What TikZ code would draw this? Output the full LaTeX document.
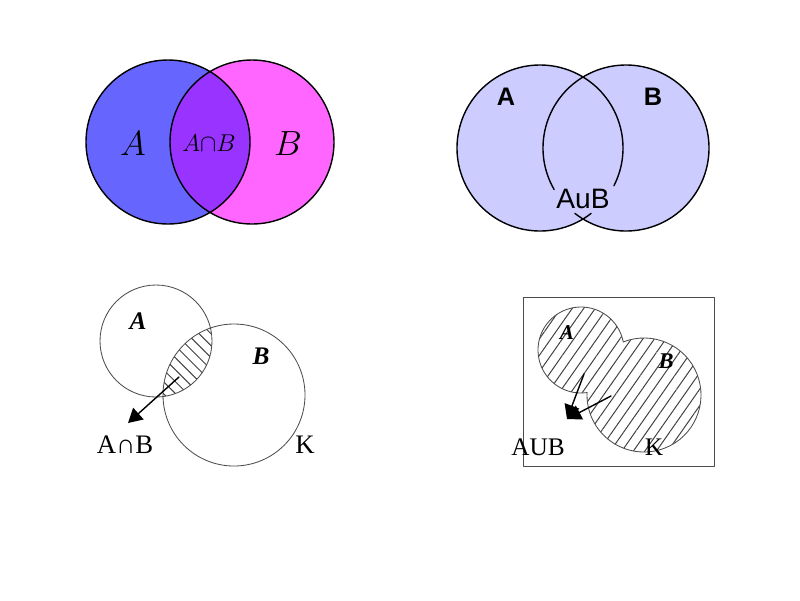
\documentclass[tikz,border=0pt]{standalone}
\usepackage{fontspec}
\newfontfamily\timesfont{Liberation Serif}
\newfontfamily\arialfont{Liberation Sans}
\usetikzlibrary{arrows.meta,patterns.meta}
\definecolor{setA}{HTML}{6666FF}
\definecolor{setB}{HTML}{FF66FF}
\definecolor{setAB}{HTML}{9933FF}
\definecolor{lavender}{HTML}{CCCCFF}
\tikzset{
  rim/.style={draw=black, line width=1pt},
  thin rim/.style={draw=black!70, line width=0.6pt},
  mathbig/.style={font=\fontsize{25}{25}\selectfont},
  mathmid/.style={font=\fontsize{17}{17}\selectfont},
  sansbold/.style={font=\arialfont\bfseries\fontsize{18}{18}\selectfont},
  sanslabel/.style={font=\arialfont\fontsize{20}{20}\selectfont},
  serifset/.style={font=\timesfont\bfseries\itshape\fontsize{#1}{#1}\selectfont},
  seriflabel/.style={font=\timesfont\fontsize{#1}{#1}\selectfont},
  pointer/.style={line width=1pt, -{Triangle[length=10pt,width=11pt]}},
  hatchlines/.style 2 args={pattern={Lines[angle=#1,distance=#2,line width=0.7pt]}, pattern color=black!75}
}
\begin{document}
\begin{tikzpicture}[x=0.025cm,y=-0.025cm,line join=round,line cap=round]
\useasboundingbox (0,0) rectangle (800,600);
% intersection, coloured
\coordinate (cA1) at (168,142);
\coordinate (cB1) at (252,142);
\fill[setA] (cA1) circle[radius=82];
\fill[setB] (cB1) circle[radius=82];
\begin{scope}
  \clip (cA1) circle[radius=82];
  \fill[setAB] (cB1) circle[radius=82];
\end{scope}
\draw[rim] (cA1) circle[radius=82] (cB1) circle[radius=82];
\node[mathbig] (lA1) at (133,144) {$A$};
\node[mathmid] (lAB1) at (209,143) {$A{\cap}B$};
\node[mathbig] (lB1) at (288,144) {$B$};
% union, lavender
\coordinate (cA2) at (540,148);
\coordinate (cB2) at (626,148);
\fill[lavender] (cA2) circle[radius=83] (cB2) circle[radius=83];
\draw[rim] (cA2) ++(-58.8:83) arc[start angle=-58.8,end angle=27,radius=83];
\draw[rim] (cA2) ++(52:83) arc[start angle=52,end angle=301.2,radius=83];
\draw[rim] (cB2) ++(238.8:83) arc[start angle=238.8,end angle=150,radius=83];
\draw[rim] (cB2) ++(128:83) arc[start angle=128,end angle=-121.2,radius=83];
\node[sansbold] (lA2) at (506,97) {A};
\node[sansbold] (lB2) at (653,97) {B};
\node[sanslabel] (lAB2) at (583,199) {AuB};
% intersection, hatched
\coordinate (cA3) at (156,341);
\coordinate (cB3) at (234,395);
\begin{scope}
  \clip (cA3) circle[radius=56];
  \fill[hatchlines={-45}{6pt}] (cB3) circle[radius=71];
\end{scope}
\draw[thin rim] (cA3) circle[radius=56] (cB3) circle[radius=71];
\coordinate (p3) at (179,377);
\coordinate (t3) at (128,423);
\draw[pointer] (p3) -- (t3);
\node[serifset=18] (lA3) at (138,321) {A};
\node[serifset=18] (lB3) at (261,356) {B};
\node[seriflabel=19] (lAB3) at (125,445) {A∩B};
\node[seriflabel=19] (lK3) at (305,445) {K};
% union, hatched in a frame
\draw[thin rim] (523,297) rectangle (714,466);
\coordinate (cA4) at (581,350);
\coordinate (cB4) at (644,395);
\fill[hatchlines={55}{6.7pt}] (cA4) circle[radius=43] (cB4) circle[radius=57];
\draw[thin rim] (cA4) ++(81.8:43) arc[start angle=81.8,end angle=349.2,radius=43];
\draw[thin rim] (cB4) ++(248.7:57) arc[start angle=248.7,end angle=542.3,radius=57];
\coordinate (p4a) at (584,374);
\coordinate (p4b) at (611,396);
\coordinate (t4) at (567,419);
\draw[pointer] (p4a) -- (t4);
\draw[pointer] (p4b) -- (t4);
\node[serifset=15] (lA4) at (567,333) {A};
\node[serifset=16] (lB4) at (666,361) {B};
\node[seriflabel=18] (lAB4) at (538,447) {AUB};
\node[seriflabel=18] (lK4) at (654,447) {K};
\end{tikzpicture}
\end{document}
